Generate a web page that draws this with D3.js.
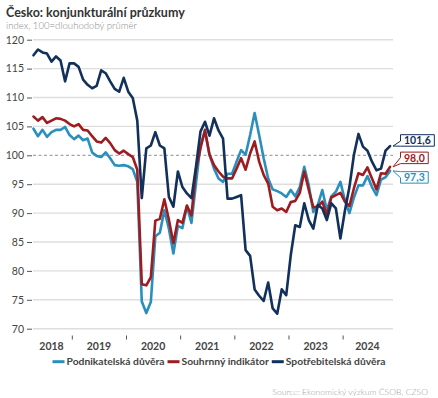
<!DOCTYPE html>
<html><head><meta charset="utf-8">
<script src="https://cdn.jsdelivr.net/npm/d3@7"></script>
<style>
html,body{margin:0;padding:0;background:#fff;}
svg{display:block;font-family:Lato,"Open Sans",sans-serif;}
</style></head>
<body>
<svg id="c" width="438" height="398"></svg>
<script>
// ---------------- data ----------------
const startMonth = "2018-04";            // first monthly observation
const years = ["2018","2019","2020","2021","2022","2023","2024"];
const yTicks = [70,75,80,85,90,95,100,105,110,115,120];
const seriesNames = ["Podnikatelská důvěra","Souhrnný indikátor","Spotřebitelská důvěra"];
const business = [104.6,103.3,104.4,103.2,104.0,104.4,104.4,104.9,103.5,102.8,103.4,102.6,102.9,100.5,99.9,99.7,100.5,99.5,98.3,98.2,
  98.3,98.1,97.6,95.4,74.7,72.7,74.6,86.0,86.6,90.5,87.3,83.0,87.8,87.4,91.2,88.3,95.1,101.8,104.1,100.1,
  97.7,96.0,95.4,96.8,96.8,98.9,100.9,100.1,103.5,107.3,103.5,99.5,96.0,94.1,93.8,93.4,92.8,94.0,92.9,94.5,
  98.0,94.8,90.2,91.4,94.0,90.5,92.9,93.7,95.4,92.2,90.0,92.7,94.8,94.8,96.4,94.5,93.1,95.8,96.2,97.3];
const composite = [106.7,106.0,106.6,105.6,106.0,106.4,106.3,106.0,105.4,105.0,105.4,104.4,104.3,103.3,102.4,102.2,103.0,102.1,100.9,100.3,
  100.8,100.2,99.7,97.5,77.7,77.5,78.9,88.7,89.0,92.4,88.9,84.8,88.8,88.3,91.3,89.6,97.5,101.2,104.4,100.1,
  98.3,97.2,96.3,96.0,96.0,97.7,99.5,97.5,100.3,102.4,98.9,96.6,95.1,91.1,90.5,90.8,90.2,91.9,92.1,93.5,
  97.2,94.0,91.0,91.1,92.0,89.6,92.7,93.1,93.5,92.0,91.2,94.3,96.9,96.6,97.9,96.0,94.1,96.9,96.8,98.0];
const consumer = [117.3,118.3,117.8,117.6,116.2,117.1,116.4,112.8,115.9,115.9,115.3,113.1,112.2,111.6,112.0,114.7,114.2,112.8,111.5,111.0,
  113.4,111.0,109.9,106.0,92.6,101.2,101.7,104.0,101.7,101.2,92.8,91.1,97.2,94.5,93.4,92.6,98.0,104.1,105.8,103.4,
  106.4,104.3,102.9,92.5,92.5,92.8,93.1,83.6,82.6,76.8,75.7,74.8,78.0,73.5,72.6,76.8,75.8,82.7,87.9,87.6,
  91.7,88.8,87.3,91.4,90.8,88.8,91.7,90.8,85.6,90.4,94.5,100.1,103.7,101.5,100.8,98.9,97.4,97.7,100.8,101.6];
const title = "Česko: konjunkturální průzkumy";
const subtitle = "index, 100=dlouhodobý průměr";
const source = "Source: Ekonomický výzkum ČSOB, CZSO";

// ---------------- layout / style ----------------
const colors = ["#2a8fbd","#9e1b20","#12305c"];
const svg = d3.select("#c");
const [sy, sm] = startMonth.split("-").map(Number);
const n = consumer.length;
const monthIndex = (yr, mo) => (yr - sy) * 12 + (mo - sm);   // mo is 1-based

const x = d3.scaleLinear().domain([-0.5, n - 0.5]).range([31.2, 392.3]);
const y = d3.scaleLinear().domain([70, 120]).range([328.7, 39.7]);
const gx0 = 33, gx1 = 393;

// title
svg.append("text").attr("x",6).attr("y",17).attr("font-size",12.5).attr("font-weight",700)
  .attr("fill","#333").text(title);
svg.append("text").attr("x",6).attr("y",28.5).attr("font-size",9.6).attr("font-weight",300)
  .attr("fill","#8a8a8a").text(subtitle);

// grid
const grid = svg.append("g");
yTicks.forEach(t => {
  if (t === 100) return;
  grid.append("line").attr("x1",gx0).attr("x2",gx1).attr("y1",y(t)).attr("y2",y(t))
    .attr("stroke","#dedede").attr("stroke-width",1.4);
});
grid.append("line").attr("x1",gx0).attr("x2",gx1).attr("y1",y(100)).attr("y2",y(100))
  .attr("stroke","#8f8f8f").attr("stroke-width",1).attr("stroke-dasharray","3,2.5");

// y axis
const yAxis = d3.axisLeft(y).tickValues(yTicks).tickSize(5).tickPadding(3);
const ya = svg.append("g").attr("transform","translate(32,0)").call(yAxis);
ya.select(".domain").remove();
ya.selectAll("line").attr("stroke","#555");
ya.selectAll("text").attr("font-size",10.5).attr("fill","#444").attr("font-family","Lato");

// x axis ticks between December and January
const tickIdx = years.slice(1).map(yr => monthIndex(+yr, 1) - 0.5);
const xa = svg.append("g").attr("transform","translate(0,335.5)")
  .call(d3.axisBottom(x).tickValues(tickIdx).tickSize(4).tickFormat(""));
xa.select(".domain").remove();
xa.selectAll("line").attr("stroke","#555");
const bounds = [x.domain()[0], ...tickIdx, x.domain()[1]];
years.forEach((yr, k) => {
  svg.append("text").attr("x",(x(bounds[k]) + x(bounds[k+1]))/2).attr("y",350)
    .attr("text-anchor","middle").attr("font-size",10.5).attr("font-weight",700)
    .attr("fill","#444").text(yr);
});

// lines
const all = [business, composite, consumer];
const line = d3.line().x((d,i) => x(i)).y(d => y(d));
all.forEach((s, k) => {
  svg.append("path").datum(s).attr("d", line).attr("fill","none")
    .attr("stroke", colors[k]).attr("stroke-width",2.6)
    .attr("stroke-linejoin","round").attr("stroke-linecap","round");
});

// end-value callouts
const fmt = v => d3.format(".1f")(v).replace(".", ",");
const labelShift = [6.5, -9, -5.6];   // vertical offsets of boxes (layout)
const order = [2,1,0];
order.forEach(k => {
  const v = all[k][n-1];
  const ty = y(v), tx = gx1;
  const cy = ty + labelShift[k];
  const g = svg.append("g");
  const t = g.append("text").attr("x",0).attr("y",0).attr("font-size",10.5).attr("font-weight",700)
    .attr("fill",colors[k]).text(fmt(v));
  const w = t.node().getComputedTextLength() + 7;
  const h = 11.5;
  const bx = 400.5, top = cy - h/2, bot = cy + h/2;
  let b1, b2;
  if (ty > bot) { b1 = bot - 6; b2 = bot; }
  else if (ty < top) { b1 = top; b2 = top + 6; }
  else { b1 = Math.max(top, ty - 5); b2 = Math.min(bot, ty + 1); }
  const p = d3.path();
  p.moveTo(bx, top); p.lineTo(bx + w, top); p.lineTo(bx + w, bot); p.lineTo(bx, bot);
  p.lineTo(bx, b2); p.lineTo(tx, ty); p.lineTo(bx, b1); p.closePath();
  g.insert("path","text").attr("d", p.toString()).attr("fill","#fff").attr("stroke",colors[k]).attr("stroke-width",1);
  t.attr("x", bx + 3.5).attr("y", cy + 3.8);
});

// legend
const lg = svg.append("g");
let cx = 0;
const items = [];
seriesNames.forEach((name, k) => {
  const it = lg.append("g").attr("transform",`translate(${cx},0)`);
  it.append("line").attr("x1",0).attr("x2",12).attr("y1",0).attr("y2",0)
    .attr("stroke",colors[k]).attr("stroke-width",3);
  const tt = it.append("text").attr("x",14).attr("y",3.6).attr("font-size",10.3).attr("font-weight",700)
    .attr("fill","#444").text(name);
  cx += 14 + tt.node().getComputedTextLength() + 3;
});
const lw = cx - 3;
lg.attr("transform",`translate(${(438 - lw)/2},361.7)`);

// source
svg.append("text").attr("x",428).attr("y",395).attr("text-anchor","end").attr("font-size",8.6)
  .attr("fill","#a0a0a0").attr("font-weight",300).text(source);
</script>
</body></html>
